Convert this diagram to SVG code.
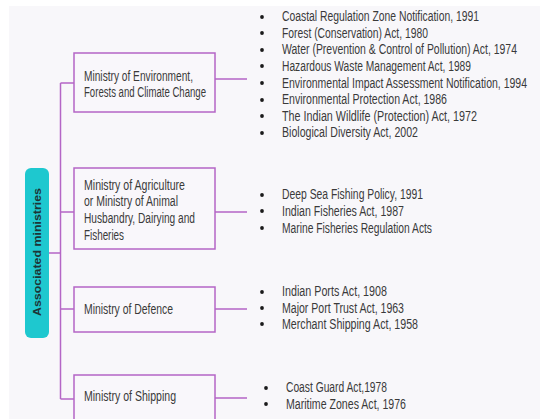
<svg xmlns="http://www.w3.org/2000/svg" width="540" height="419" viewBox="0 0 540 419">
<style>
.box{fill:#f9f7fb;stroke:#b466c6;stroke-width:1.5}
.ln{fill:none;stroke:#b466c6;stroke-width:1.5}
.t{font-family:"Liberation Sans",Arial,sans-serif;font-size:14px;fill:#3a3a3a;dominant-baseline:central}
.b{fill:#1a1a1a}
.lab{font-family:"Liberation Sans",Arial,sans-serif;font-size:11px;font-weight:bold;fill:#1d3436}
</style>
<rect x="0" y="0" width="540" height="419" fill="#ffffff"/>
<rect x="9" y="6" width="531" height="413" fill="#f8f7fa"/>
<g id="connectors">
<path class="ln" d="M49 253H60.5M60.5 83V399M60.5 83H74M60.5 212H74M60.5 309H74M60.5 399H74"/>
<path class="ln" d="M215 79H247M215 212H247M215 309H247M215 398H247"/>
</g>
<g id="root">
<rect x="25" y="168" width="24" height="170" rx="6" fill="#1ec8cf"/>
<text class="lab" transform="translate(41,316) rotate(-90)" textLength="128" lengthAdjust="spacingAndGlyphs">Associated ministries</text>
</g>
<g id="moefcc">
<rect class="box" x="74" y="53" width="141" height="59"/>
<text class="t" x="84" y="76" textLength="109" lengthAdjust="spacingAndGlyphs">Ministry of Environment,</text>
<text class="t" x="84" y="92" textLength="122" lengthAdjust="spacingAndGlyphs">Forests and Climate Change</text>
</g>
<g id="agri">
<rect class="box" x="74" y="168" width="141" height="81"/>
<text class="t" x="84" y="185" textLength="101" lengthAdjust="spacingAndGlyphs">Ministry of Agriculture</text>
<text class="t" x="84" y="201" textLength="94" lengthAdjust="spacingAndGlyphs">or Ministry of Animal</text>
<text class="t" x="84" y="218" textLength="111" lengthAdjust="spacingAndGlyphs">Husbandry, Dairying and</text>
<text class="t" x="84" y="235" textLength="40" lengthAdjust="spacingAndGlyphs">Fisheries</text>
</g>
<g id="defence">
<rect class="box" x="74" y="287" width="141" height="45"/>
<text class="t" x="84" y="309" textLength="89" lengthAdjust="spacingAndGlyphs">Ministry of Defence</text>
</g>
<g id="shipping">
<rect class="box" x="74" y="375" width="141" height="60"/>
<text class="t" x="84" y="396" textLength="92" lengthAdjust="spacingAndGlyphs">Ministry of Shipping</text>
</g>
<g id="list-env">
<circle class="b" cx="262" cy="17" r="1.9"/><text class="t" x="282" y="16" textLength="197" lengthAdjust="spacingAndGlyphs">Coastal Regulation Zone Notification, 1991</text>
<circle class="b" cx="262" cy="33" r="1.9"/><text class="t" x="282" y="33" textLength="146" lengthAdjust="spacingAndGlyphs">Forest (Conservation) Act, 1980</text>
<circle class="b" cx="262" cy="50" r="1.9"/><text class="t" x="282" y="49" textLength="235" lengthAdjust="spacingAndGlyphs">Water (Prevention &amp; Control of Pollution) Act, 1974</text>
<circle class="b" cx="262" cy="66" r="1.9"/><text class="t" x="282" y="66" textLength="189" lengthAdjust="spacingAndGlyphs">Hazardous Waste Management Act, 1989</text>
<circle class="b" cx="262" cy="83" r="1.9"/><text class="t" x="282" y="83" textLength="245" lengthAdjust="spacingAndGlyphs">Environmental Impact Assessment Notification, 1994</text>
<circle class="b" cx="262" cy="100" r="1.9"/><text class="t" x="282" y="99" textLength="165" lengthAdjust="spacingAndGlyphs">Environmental Protection Act, 1986</text>
<circle class="b" cx="262" cy="116" r="1.9"/><text class="t" x="282" y="116" textLength="195" lengthAdjust="spacingAndGlyphs">The Indian Wildlife (Protection) Act, 1972</text>
<circle class="b" cx="262" cy="133" r="1.9"/><text class="t" x="282" y="132" textLength="136" lengthAdjust="spacingAndGlyphs">Biological Diversity Act, 2002</text>
</g>
<g id="list-agri">
<circle class="b" cx="262" cy="195" r="1.9"/><text class="t" x="282" y="194" textLength="141" lengthAdjust="spacingAndGlyphs">Deep Sea Fishing Policy, 1991</text>
<circle class="b" cx="262" cy="211" r="1.9"/><text class="t" x="282" y="211" textLength="122" lengthAdjust="spacingAndGlyphs">Indian Fisheries Act, 1987</text>
<circle class="b" cx="262" cy="228" r="1.9"/><text class="t" x="282" y="228" textLength="150" lengthAdjust="spacingAndGlyphs">Marine Fisheries Regulation Acts</text>
</g>
<g id="list-def">
<circle class="b" cx="262" cy="292" r="1.9"/><text class="t" x="282" y="291" textLength="105" lengthAdjust="spacingAndGlyphs">Indian Ports Act, 1908</text>
<circle class="b" cx="262" cy="308" r="1.9"/><text class="t" x="282" y="308" textLength="122" lengthAdjust="spacingAndGlyphs">Major Port Trust Act, 1963</text>
<circle class="b" cx="262" cy="324" r="1.9"/><text class="t" x="282" y="324" textLength="136" lengthAdjust="spacingAndGlyphs">Merchant Shipping Act, 1958</text>
</g>
<g id="list-ship">
<circle class="b" cx="266" cy="388" r="1.9"/><text class="t" x="286" y="387" textLength="101" lengthAdjust="spacingAndGlyphs">Coast Guard Act,1978</text>
<circle class="b" cx="266" cy="404" r="1.9"/><text class="t" x="286" y="404" textLength="120" lengthAdjust="spacingAndGlyphs">Maritime Zones Act, 1976</text>
</g>
</svg>
